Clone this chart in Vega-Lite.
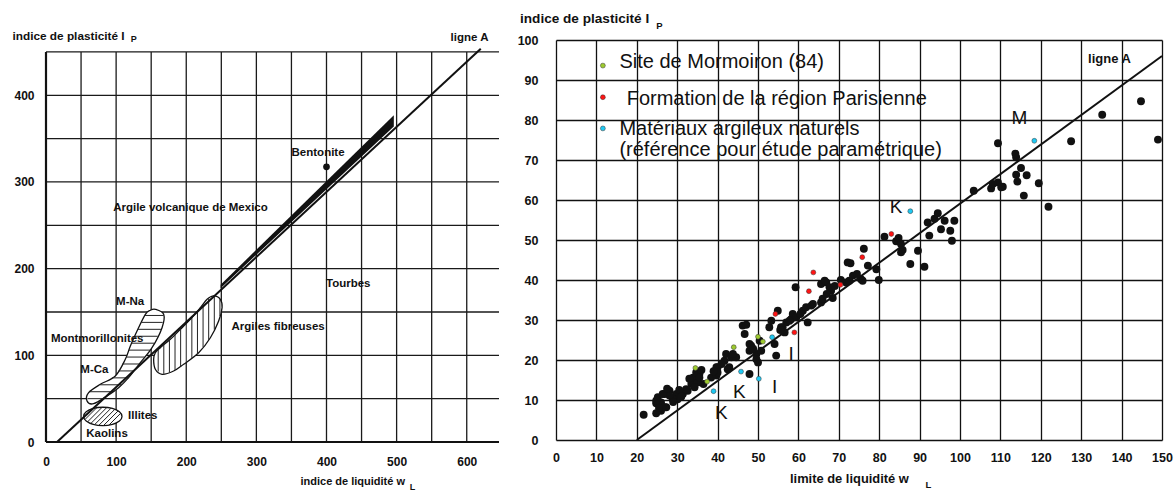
{
  "$schema": "https://vega.github.io/schema/vega-lite/v6.json",
  "background": "white",
  "padding": {"left": 12, "top": 11, "right": 5, "bottom": 5},
  "spacing": 16,
  "config": {
    "view": {"stroke": null},
    "font": "Liberation Sans",
    "axis": {"labelColor": "#111", "titleColor": "#111", "labelFont": "Liberation Sans", "titleFont": "Liberation Sans", "titleFontWeight": "bold", "labelFontWeight": "bold"}
  },
  "datasets": {
    "leftGrid": [
      {"x": 50, "y": 0, "x2": 50, "y2": 450}, {"x": 100, "y": 0, "x2": 100, "y2": 450}, {"x": 150, "y": 0, "x2": 150, "y2": 450},
      {"x": 200, "y": 0, "x2": 200, "y2": 450}, {"x": 250, "y": 0, "x2": 250, "y2": 450}, {"x": 300, "y": 0, "x2": 300, "y2": 450},
      {"x": 350, "y": 0, "x2": 350, "y2": 450}, {"x": 400, "y": 0, "x2": 400, "y2": 450}, {"x": 450, "y": 0, "x2": 450, "y2": 450},
      {"x": 500, "y": 0, "x2": 500, "y2": 450}, {"x": 550, "y": 0, "x2": 550, "y2": 450}, {"x": 600, "y": 0, "x2": 600, "y2": 450},
      {"x": 0, "y": 50, "x2": 646, "y2": 50}, {"x": 0, "y": 100, "x2": 646, "y2": 100}, {"x": 0, "y": 150, "x2": 646, "y2": 150},
      {"x": 0, "y": 200, "x2": 646, "y2": 200}, {"x": 0, "y": 250, "x2": 646, "y2": 250}, {"x": 0, "y": 300, "x2": 646, "y2": 300},
      {"x": 0, "y": 350, "x2": 646, "y2": 350}, {"x": 0, "y": 400, "x2": 646, "y2": 400}, {"x": 0, "y": 450, "x2": 646, "y2": 450}
    ],
    "leftFrame": [
      {"x": 0, "y": 0, "x2": 646, "y2": 0},
      {"x": 0, "y": 0, "x2": 0, "y2": 450}
    ],
    "regions": [
      {"shape": "Montmorillonites", "o": 1, "x": 58.5, "y": 47.3}, {"shape": "Montmorillonites", "o": 2, "x": 60.8, "y": 56.9},
      {"shape": "Montmorillonites", "o": 3, "x": 77.5, "y": 66.6}, {"shape": "Montmorillonites", "o": 4, "x": 98.9, "y": 76.2},
      {"shape": "Montmorillonites", "o": 5, "x": 113.1, "y": 95.4}, {"shape": "Montmorillonites", "o": 6, "x": 120.3, "y": 110.8},
      {"shape": "Montmorillonites", "o": 7, "x": 129.8, "y": 128.1}, {"shape": "Montmorillonites", "o": 8, "x": 141.7, "y": 147.3},
      {"shape": "Montmorillonites", "o": 9, "x": 148.8, "y": 152}, {"shape": "Montmorillonites", "o": 10, "x": 155.9, "y": 153.1},
      {"shape": "Montmorillonites", "o": 11, "x": 167.8, "y": 147.3}, {"shape": "Montmorillonites", "o": 12, "x": 165.5, "y": 131.9},
      {"shape": "Montmorillonites", "o": 13, "x": 151.2, "y": 108.8}, {"shape": "Montmorillonites", "o": 14, "x": 134.5, "y": 91.5},
      {"shape": "Montmorillonites", "o": 15, "x": 117.8, "y": 74.2}, {"shape": "Montmorillonites", "o": 16, "x": 103.6, "y": 62.7},
      {"shape": "Montmorillonites", "o": 17, "x": 87, "y": 53.1}, {"shape": "Montmorillonites", "o": 18, "x": 67.9, "y": 44.2},
      {"shape": "Argiles fibreuses", "o": 1, "x": 239.1, "y": 168.5}, {"shape": "Argiles fibreuses", "o": 2, "x": 248.6, "y": 164.6},
      {"shape": "Argiles fibreuses", "o": 3, "x": 251.1, "y": 155}, {"shape": "Argiles fibreuses", "o": 4, "x": 246.2, "y": 139.6},
      {"shape": "Argiles fibreuses", "o": 5, "x": 234.4, "y": 120.3}, {"shape": "Argiles fibreuses", "o": 6, "x": 217.7, "y": 103},
      {"shape": "Argiles fibreuses", "o": 7, "x": 196.3, "y": 89.7}, {"shape": "Argiles fibreuses", "o": 8, "x": 182, "y": 81.9},
      {"shape": "Argiles fibreuses", "o": 9, "x": 165.5, "y": 78.1}, {"shape": "Argiles fibreuses", "o": 10, "x": 155.9, "y": 83.9},
      {"shape": "Argiles fibreuses", "o": 11, "x": 153.5, "y": 95.4}, {"shape": "Argiles fibreuses", "o": 12, "x": 155.9, "y": 103},
      {"shape": "Argiles fibreuses", "o": 13, "x": 163, "y": 108.8}, {"shape": "Argiles fibreuses", "o": 14, "x": 177.3, "y": 118.5},
      {"shape": "Argiles fibreuses", "o": 15, "x": 191.6, "y": 130}, {"shape": "Argiles fibreuses", "o": 16, "x": 205.8, "y": 141.6},
      {"shape": "Argiles fibreuses", "o": 17, "x": 220.1, "y": 155}, {"shape": "Argiles fibreuses", "o": 18, "x": 229.7, "y": 164.6},
      {"shape": "Illites", "o": 1, "x": 108.4, "y": 29.5}, {"shape": "Illites", "o": 2, "x": 104.7, "y": 34.8},
      {"shape": "Illites", "o": 3, "x": 94.7, "y": 38.7}, {"shape": "Illites", "o": 4, "x": 81, "y": 40.1},
      {"shape": "Illites", "o": 5, "x": 67.3, "y": 38.7}, {"shape": "Illites", "o": 6, "x": 57.3, "y": 34.8},
      {"shape": "Illites", "o": 7, "x": 53.6, "y": 29.5}, {"shape": "Illites", "o": 8, "x": 57.3, "y": 24.2},
      {"shape": "Illites", "o": 9, "x": 67.3, "y": 20.3}, {"shape": "Illites", "o": 10, "x": 81, "y": 18.9},
      {"shape": "Illites", "o": 11, "x": 94.7, "y": 20.3}, {"shape": "Illites", "o": 12, "x": 104.7, "y": 24.2}
    ],
    "hatch": [
      {"x": 59.1, "y": 50, "x2": 80.4, "y2": 50}, {"x": 62.7, "y": 58, "x2": 95.5, "y2": 58},
      {"x": 76.5, "y": 66, "x2": 107.7, "y2": 66}, {"x": 94, "y": 74, "x2": 117.6, "y2": 74},
      {"x": 103.2, "y": 82, "x2": 125.3, "y2": 82}, {"x": 109.1, "y": 90, "x2": 133, "y2": 90},
      {"x": 114.3, "y": 98, "x2": 140.8, "y2": 98}, {"x": 118.1, "y": 106, "x2": 148.5, "y2": 106},
      {"x": 122.1, "y": 114, "x2": 154.4, "y2": 114}, {"x": 126.4, "y": 122, "x2": 159.4, "y2": 122},
      {"x": 131, "y": 130, "x2": 164.3, "y2": 130}, {"x": 136, "y": 138, "x2": 166.4, "y2": 138},
      {"x": 140.9, "y": 146, "x2": 167.6, "y2": 146},
      {"x": 160, "y": 81.4, "x2": 160, "y2": 106.3}, {"x": 168, "y": 78.7, "x2": 168, "y2": 112.2},
      {"x": 176, "y": 80.5, "x2": 176, "y2": 117.6}, {"x": 184, "y": 83, "x2": 184, "y2": 123.9},
      {"x": 192, "y": 87.4, "x2": 192, "y2": 130.3}, {"x": 200, "y": 92, "x2": 200, "y2": 136.9},
      {"x": 208, "y": 97, "x2": 208, "y2": 143.7}, {"x": 216, "y": 101.9, "x2": 216, "y2": 151.1},
      {"x": 224, "y": 109.5, "x2": 224, "y2": 158.9}, {"x": 232, "y": 117.8, "x2": 232, "y2": 165.6},
      {"x": 240, "y": 129.5, "x2": 240, "y2": 168.1}, {"x": 248, "y": 145.3, "x2": 248, "y2": 164.8},
      {"x": 55.4, "y": 25.8, "x2": 72.4, "y2": 39.6}, {"x": 59.1, "y": 23.1, "x2": 80.1, "y2": 40.1},
      {"x": 63.8, "y": 21.25, "x2": 86.8, "y2": 39.86}, {"x": 69.2, "y": 19.94, "x2": 92.8, "y2": 39.06},
      {"x": 75.2, "y": 19.14, "x2": 98.2, "y2": 37.75}, {"x": 81.9, "y": 18.9, "x2": 102.9, "y2": 35.9},
      {"x": 89.6, "y": 19.4, "x2": 106.6, "y2": 33.2}
    ],
    "wedge": [
      {"x": 249, "y": 177.5, "y2": 181.5},
      {"x": 496, "y": 364, "y2": 377}
    ],
    "leftLineA": [{"x": 15.7, "y": 0}, {"x": 620, "y": 453.6}],
    "bentonite": [{"x": 400, "y": 317.5}],
    "leftLabels": [
      {"t": "Bentonite", "x": 388, "y": 333},
      {"t": "Argile volcanique de Mexico", "x": 206, "y": 270},
      {"t": "Tourbes", "x": 431, "y": 182},
      {"t": "Argiles fibreuses", "x": 331, "y": 133},
      {"t": "M-Na", "x": 120, "y": 161},
      {"t": "Montmorillonites", "x": 73, "y": 119},
      {"t": "M-Ca", "x": 69, "y": 83},
      {"t": "Illites", "x": 138, "y": 30},
      {"t": "Kaolins", "x": 87, "y": 9},
      {"t": "ligne A", "x": 604, "y": 465.8}
    ],
    "leftSubs": [
      {"t": "P", "x": 125, "y": 464.6},
      {"t": "L", "x": 522.5, "y": -52}
    ],
    "rightLineA": [{"wL": 20, "Ip": 0}, {"wL": 150, "Ip": 96}],
    "black": [
      {"wL": 21.7, "Ip": 6.3}, {"wL": 24.8, "Ip": 6.7}, {"wL": 26, "Ip": 7.3}, {"wL": 24.8, "Ip": 9.2}, {"wL": 25.2, "Ip": 10.7},
      {"wL": 27.3, "Ip": 8.2}, {"wL": 26.9, "Ip": 11.5}, {"wL": 28.1, "Ip": 12.3}, {"wL": 29.8, "Ip": 11.5}, {"wL": 30.1, "Ip": 10.2},
      {"wL": 31.4, "Ip": 11.5}, {"wL": 32.6, "Ip": 12.3}, {"wL": 33.5, "Ip": 14}, {"wL": 33.9, "Ip": 15.6}, {"wL": 35.1, "Ip": 14.4},
      {"wL": 35.5, "Ip": 16.5}, {"wL": 34.3, "Ip": 13.2}, {"wL": 28.9, "Ip": 10.2}, {"wL": 26, "Ip": 9.4}, {"wL": 28.1, "Ip": 11.1},
      {"wL": 26.4, "Ip": 11.5}, {"wL": 24.8, "Ip": 9.8}, {"wL": 26.9, "Ip": 8.2}, {"wL": 32.2, "Ip": 12.7}, {"wL": 33, "Ip": 15.3},
      {"wL": 34.7, "Ip": 16.9}, {"wL": 35.5, "Ip": 15.6}, {"wL": 36.5, "Ip": 14}, {"wL": 30.5, "Ip": 12.5}, {"wL": 27.5, "Ip": 12.8},
      {"wL": 25.5, "Ip": 8}, {"wL": 29, "Ip": 9.5}, {"wL": 31, "Ip": 10.8}, {"wL": 36, "Ip": 17.5}, {"wL": 38.4, "Ip": 15.6},
      {"wL": 39.7, "Ip": 16.1}, {"wL": 40, "Ip": 18.2}, {"wL": 41.7, "Ip": 19.8}, {"wL": 42.1, "Ip": 21.5}, {"wL": 43.4, "Ip": 20.7},
      {"wL": 44.6, "Ip": 20.7}, {"wL": 42.9, "Ip": 18.2}, {"wL": 43.8, "Ip": 21.5}, {"wL": 39.7, "Ip": 18.2}, {"wL": 40, "Ip": 16.9},
      {"wL": 42.5, "Ip": 17.7}, {"wL": 41, "Ip": 19}, {"wL": 39, "Ip": 17.2},
      {"wL": 46.2, "Ip": 28.6}, {"wL": 46.7, "Ip": 26.5}, {"wL": 48.3, "Ip": 23.6}, {"wL": 47.9, "Ip": 22.3}, {"wL": 49.6, "Ip": 21.5},
      {"wL": 50, "Ip": 19.4}, {"wL": 47.9, "Ip": 16.5}, {"wL": 50.4, "Ip": 24.8}, {"wL": 50.8, "Ip": 22.3}, {"wL": 47.1, "Ip": 28.8},
      {"wL": 47.9, "Ip": 24}, {"wL": 49.6, "Ip": 20.2}, {"wL": 48.8, "Ip": 22.8},
      {"wL": 52.8, "Ip": 28.2}, {"wL": 54.1, "Ip": 24}, {"wL": 54.5, "Ip": 21.1}, {"wL": 53.3, "Ip": 29.8}, {"wL": 54.9, "Ip": 32.3},
      {"wL": 56.1, "Ip": 28.2}, {"wL": 57, "Ip": 29.4}, {"wL": 58.2, "Ip": 30.2}, {"wL": 58.6, "Ip": 31.5}, {"wL": 59.5, "Ip": 30.7},
      {"wL": 59.3, "Ip": 38.2}, {"wL": 61.1, "Ip": 32.3}, {"wL": 62.3, "Ip": 29.4}, {"wL": 61.9, "Ip": 33.2}, {"wL": 63.2, "Ip": 33.6},
      {"wL": 55.7, "Ip": 28.2}, {"wL": 56.6, "Ip": 26.9}, {"wL": 57.8, "Ip": 29.8}, {"wL": 63.6, "Ip": 34}, {"wL": 65.6, "Ip": 34.4},
      {"wL": 60.5, "Ip": 31.5}, {"wL": 55.5, "Ip": 27.5},
      {"wL": 65.6, "Ip": 39}, {"wL": 66.9, "Ip": 39.4}, {"wL": 66, "Ip": 35.3}, {"wL": 68.1, "Ip": 37.3}, {"wL": 72.2, "Ip": 44.4},
      {"wL": 66.5, "Ip": 39.8}, {"wL": 67.7, "Ip": 38.2}, {"wL": 77.2, "Ip": 43.6}, {"wL": 79.9, "Ip": 40}, {"wL": 73.5, "Ip": 41.1},
      {"wL": 75.5, "Ip": 40.2}, {"wL": 71.8, "Ip": 39.4}, {"wL": 75.9, "Ip": 39.8}, {"wL": 72.6, "Ip": 39.8}, {"wL": 76.2, "Ip": 47.8},
      {"wL": 72.9, "Ip": 44.2}, {"wL": 79.3, "Ip": 42.7}, {"wL": 67, "Ip": 36.5}, {"wL": 69, "Ip": 38.5}, {"wL": 70.5, "Ip": 40},
      {"wL": 68.5, "Ip": 35.5}, {"wL": 74.5, "Ip": 41.5},
      {"wL": 81.3, "Ip": 50.8}, {"wL": 84.2, "Ip": 49.7}, {"wL": 84.8, "Ip": 50.5}, {"wL": 85.4, "Ip": 49}, {"wL": 85.8, "Ip": 47.5},
      {"wL": 87.7, "Ip": 44}, {"wL": 89.6, "Ip": 47.3}, {"wL": 91.2, "Ip": 43.3}, {"wL": 92, "Ip": 54.4}, {"wL": 93.7, "Ip": 55.3},
      {"wL": 94.5, "Ip": 56.7}, {"wL": 96.2, "Ip": 54.8}, {"wL": 98.6, "Ip": 54.8}, {"wL": 95.3, "Ip": 52.7}, {"wL": 97.6, "Ip": 52.3},
      {"wL": 92.4, "Ip": 51.1}, {"wL": 98, "Ip": 49.8}, {"wL": 85.4, "Ip": 46.9},
      {"wL": 103.4, "Ip": 62.3}, {"wL": 107.7, "Ip": 62.9}, {"wL": 110.6, "Ip": 63.3}, {"wL": 109.4, "Ip": 64.4}, {"wL": 114.2, "Ip": 64.6},
      {"wL": 108.1, "Ip": 64}, {"wL": 113.9, "Ip": 66.3}, {"wL": 116.5, "Ip": 66.2}, {"wL": 115.1, "Ip": 68}, {"wL": 113.9, "Ip": 70.7},
      {"wL": 113.7, "Ip": 71.6}, {"wL": 109.4, "Ip": 74.2}, {"wL": 119.5, "Ip": 64.2}, {"wL": 115.8, "Ip": 61.1}, {"wL": 121.9, "Ip": 58.3},
      {"wL": 127.5, "Ip": 74.7}, {"wL": 135.2, "Ip": 81.3}, {"wL": 144.8, "Ip": 84.7}, {"wL": 149, "Ip": 75.1}, {"wL": 110.2, "Ip": 63.2}
    ],
    "colored": [
      {"wL": 34.5, "Ip": 18, "cat": "Mormoiron"}, {"wL": 37.4, "Ip": 14.6, "cat": "Mormoiron"}, {"wL": 44, "Ip": 23.2, "cat": "Mormoiron"},
      {"wL": 50, "Ip": 25.8, "cat": "Mormoiron"}, {"wL": 51.2, "Ip": 24.6, "cat": "Mormoiron"},
      {"wL": 63.7, "Ip": 41.9, "cat": "Parisienne"}, {"wL": 62.6, "Ip": 37.2, "cat": "Parisienne"}, {"wL": 70.4, "Ip": 38.8, "cat": "Parisienne"},
      {"wL": 54.3, "Ip": 31.5, "cat": "Parisienne"}, {"wL": 59, "Ip": 26.9, "cat": "Parisienne"}, {"wL": 83, "Ip": 51.5, "cat": "Parisienne"},
      {"wL": 75.8, "Ip": 45.7, "cat": "Parisienne"},
      {"wL": 39, "Ip": 12.2, "cat": "Naturels"}, {"wL": 45.8, "Ip": 17.1, "cat": "Naturels"}, {"wL": 50.2, "Ip": 15.3, "cat": "Naturels"},
      {"wL": 53.5, "Ip": 25.7, "cat": "Naturels"}, {"wL": 87.7, "Ip": 57.2, "cat": "Naturels"}, {"wL": 118.4, "Ip": 74.8, "cat": "Naturels"}
    ],
    "legendDots": [
      {"wL": 11.6, "Ip": 93.6, "cat": "Mormoiron"},
      {"wL": 11.6, "Ip": 85.7, "cat": "Parisienne"},
      {"wL": 11.6, "Ip": 77.9, "cat": "Naturels"}
    ],
    "legendText": [
      {"t": "Site de Mormoiron (84)", "wL": 15.7, "Ip": 93},
      {"t": "Formation de la région Parisienne", "wL": 17.5, "Ip": 83.8},
      {"t": "Matériaux argileux naturels", "wL": 15.7, "Ip": 76.3},
      {"t": "(référence pour étude paramétrique)", "wL": 15.7, "Ip": 71.1}
    ],
    "pointLabels": [
      {"t": "K", "wL": 45.4, "Ip": 11.9}, {"t": "K", "wL": 40.9, "Ip": 6.7}, {"t": "I", "wL": 54.1, "Ip": 13.2},
      {"t": "I", "wL": 58.2, "Ip": 21.5}, {"t": "K", "wL": 84.2, "Ip": 58.2}, {"t": "M", "wL": 114.7, "Ip": 80.5}
    ],
    "rightNote": [{"t": "ligne A", "wL": 137, "Ip": 95.3}],
    "rightSubs": [
      {"t": "P", "wL": 25.6, "Ip": 103.6},
      {"t": "L", "wL": 92.2, "Ip": -11.2}
    ]
  },
  "hconcat": [
    {
      "width": 453,
      "height": 402,
      "encoding": {
        "x": {"field": "x", "type": "quantitative",
          "scale": {"domain": [0, 646], "nice": false, "zero": false},
          "axis": {"values": [0, 100, 200, 300, 400, 500, 600], "grid": false, "ticks": false, "domain": false,
            "labelPadding": 14, "labelFontSize": 12, "labelFlush": false,
            "title": "indice de liquidité  w", "titleFontSize": 11, "titleX": 254, "titleY": 39,
            "titleAlign": "left", "titleBaseline": "middle", "titleAnchor": null}},
        "y": {"field": "y", "type": "quantitative",
          "scale": {"domain": [0, 463.8], "nice": false, "zero": false},
          "axis": {"values": [0, 100, 200, 300, 400], "grid": false, "ticks": false, "domain": false,
            "labelPadding": 12, "labelFontSize": 12,
            "title": "indice de plasticité  I", "titleFontSize": 11.8, "titleAngle": 0, "titleX": -34, "titleY": -5,
            "titleAlign": "left", "titleBaseline": "middle", "titleAnchor": null}}
      },
      "layer": [
        {
          "data": {"name": "leftGrid"},
          "mark": {"type": "rule", "color": "#1a1a1a", "strokeWidth": 1.3},
          "encoding": {"x2": {"field": "x2"}, "y2": {"field": "y2"}}
        },
        {
          "data": {"name": "leftFrame"},
          "mark": {"type": "rule", "color": "#111", "strokeWidth": 2.2},
          "encoding": {"x2": {"field": "x2"}, "y2": {"field": "y2"}}
        },
        {
          "data": {"name": "regions"},
          "mark": {"type": "line", "fill": "white", "stroke": "#111", "strokeWidth": 1.3, "interpolate": "cardinal-closed"},
          "encoding": {
            "detail": {"field": "shape"},
            "order": {"field": "o", "type": "quantitative"}
          }
        },
        {
          "data": {"name": "hatch"},
          "mark": {"type": "rule", "color": "#222", "strokeWidth": 1},
          "encoding": {"x2": {"field": "x2"}, "y2": {"field": "y2"}}
        },
        {
          "data": {"name": "leftLineA"},
          "mark": {"type": "line", "color": "#111", "strokeWidth": 2},
          "encoding": {}
        },
        {
          "data": {"name": "wedge"},
          "mark": {"type": "area", "color": "#111", "opacity": 1},
          "encoding": {"y2": {"field": "y2"}}
        },
        {
          "data": {"name": "bentonite"},
          "mark": {"type": "point", "filled": true, "color": "#111", "size": 45, "opacity": 1},
          "encoding": {}
        },
        {
          "data": {"name": "leftLabels"},
          "mark": {"type": "text", "fontSize": 11.5, "fontWeight": "bold", "color": "#111", "align": "center", "baseline": "middle"},
          "encoding": {"text": {"field": "t"}}
        },
        {
          "data": {"name": "leftSubs"},
          "mark": {"type": "text", "fontSize": 9, "fontWeight": "bold", "color": "#111", "align": "center", "baseline": "middle"},
          "encoding": {"text": {"field": "t"}}
        }
      ]
    },
    {
      "width": 606,
      "height": 400,
      "encoding": {
        "x": {"field": "wL", "type": "quantitative",
          "scale": {"domain": [0, 150], "nice": false, "zero": false},
          "axis": {"values": [0, 10, 20, 30, 40, 50, 60, 70, 80, 90, 100, 110, 120, 130, 140, 150],
            "grid": true, "gridColor": "#111", "gridWidth": 1.3, "gridOpacity": 1,
            "ticks": false, "domain": false, "labelPadding": 11, "labelFontSize": 12.5, "labelFlush": false,
            "title": "limite de liquidité   w", "titleFontSize": 12.9, "titleX": 233.5, "titleY": 38,
            "titleAlign": "left", "titleBaseline": "middle", "titleAnchor": null}},
        "y": {"field": "Ip", "type": "quantitative",
          "scale": {"domain": [0, 100], "nice": false, "zero": false},
          "axis": {"values": [0, 10, 20, 30, 40, 50, 60, 70, 80, 90, 100],
            "grid": true, "gridColor": "#111", "gridWidth": 1.3, "gridOpacity": 1,
            "ticks": false, "domain": false, "labelPadding": 18, "labelFontSize": 12.5,
            "title": "indice de plasticité  I", "titleFontSize": 13.6, "titleAngle": 0, "titleX": -36.5, "titleY": -22,
            "titleAlign": "left", "titleBaseline": "middle", "titleAnchor": null}}
      },
      "layer": [
        {
          "data": {"name": "rightLineA"},
          "mark": {"type": "line", "color": "#111", "strokeWidth": 2},
          "encoding": {}
        },
        {
          "data": {"name": "black"},
          "mark": {"type": "point", "filled": true, "color": "#111", "size": 62, "opacity": 1},
          "encoding": {}
        },
        {
          "data": {"name": "colored"},
          "mark": {"type": "point", "filled": true, "size": 24, "opacity": 1, "stroke": "#333", "strokeWidth": 0.5},
          "encoding": {
            "fill": {"field": "cat", "type": "nominal",
              "scale": {"domain": ["Mormoiron", "Parisienne", "Naturels"], "range": ["#9cc92e", "#ff1414", "#1ec8f2"]},
              "legend": null}
          }
        },
        {
          "data": {"name": "legendDots"},
          "mark": {"type": "point", "filled": true, "size": 24, "opacity": 1, "stroke": "#333", "strokeWidth": 0.5},
          "encoding": {"fill": {"field": "cat", "type": "nominal", "legend": null}}
        },
        {
          "data": {"name": "legendText"},
          "mark": {"type": "text", "fontSize": 20, "color": "#111", "align": "left", "baseline": "alphabetic"},
          "encoding": {"text": {"field": "t"}}
        },
        {
          "data": {"name": "pointLabels"},
          "mark": {"type": "text", "fontSize": 19, "color": "#111", "align": "center", "baseline": "middle"},
          "encoding": {"text": {"field": "t"}}
        },
        {
          "data": {"name": "rightNote"},
          "mark": {"type": "text", "fontSize": 13, "fontWeight": "bold", "color": "#111", "align": "center", "baseline": "middle"},
          "encoding": {"text": {"field": "t"}}
        },
        {
          "data": {"name": "rightSubs"},
          "mark": {"type": "text", "fontSize": 9.5, "fontWeight": "bold", "color": "#111", "align": "center", "baseline": "middle"},
          "encoding": {"text": {"field": "t"}}
        }
      ]
    }
  ]
}
